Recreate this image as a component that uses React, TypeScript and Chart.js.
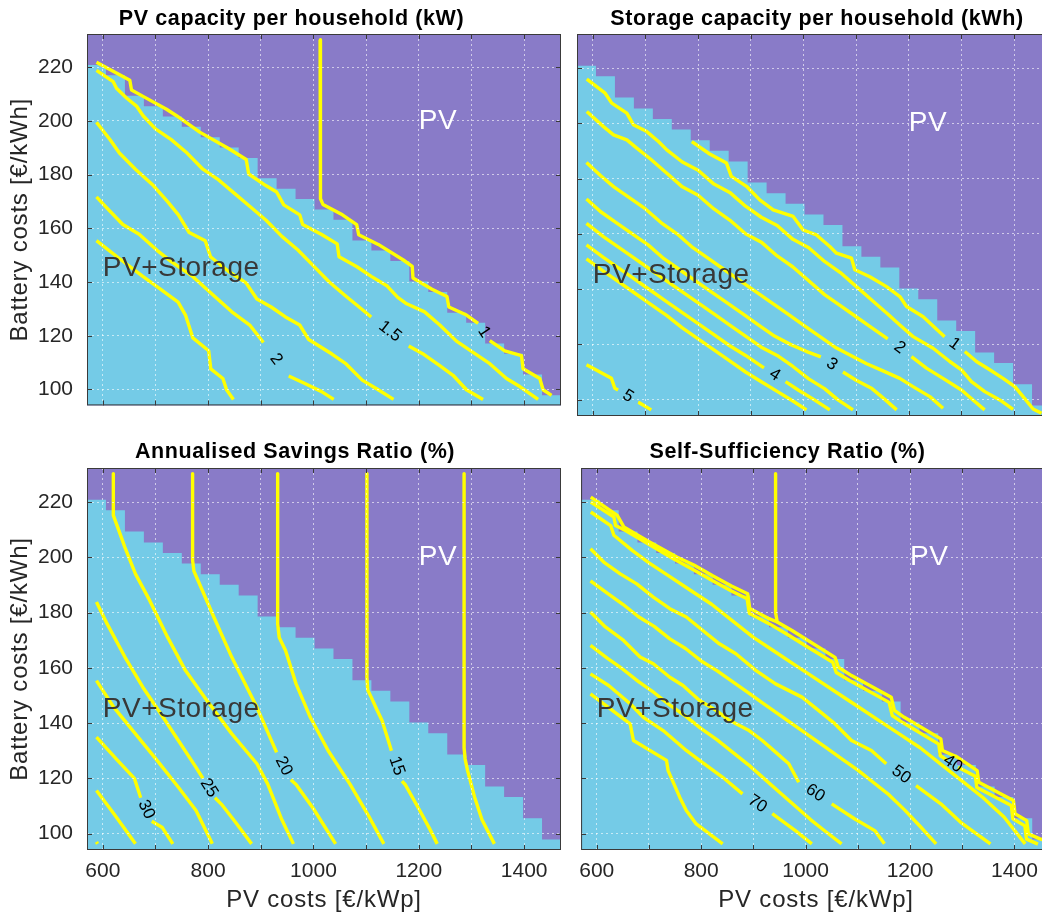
import React, { useEffect, useRef } from 'react';
import { Chart, registerables } from 'chart.js';

Chart.register(...registerables);

type Pt = [number, number] | null;

// ---------- shared axes / regime boundary ----------
const xTicks = [600, 700, 800, 900, 1000, 1100, 1200, 1300, 1400];
const xTickLabels = [600, 800, 1000, 1200, 1400];
const yTicks = [100, 120, 140, 160, 180, 200, 220];
const pvCostEdges = [570, 606, 642, 678, 714, 750, 786, 822, 858, 894, 930, 966, 1002, 1038, 1074, 1110, 1146, 1182, 1218, 1254, 1290, 1326, 1362, 1398, 1434, 1470];
const regimeBoundary = [220.8, 217.0, 209.3, 205.4, 201.6, 197.8, 193.9, 190.1, 186.2, 178.6, 174.7, 170.9, 167.0, 163.2, 155.5, 151.7, 147.8, 140.2, 136.3, 128.6, 124.8, 117.1, 113.3, 105.6, 97.9];

// ---------- PV capacity per household (kW) ----------
const pvKw100: Pt[] = [[1012.6, 230.2], [1012.6, 174], [1014, 171], [1018, 168.9], [1055, 165], [1082, 161.4], [1085.9, 157.6], [1123, 154], [1170.6, 148.2], [1187.5, 145.8], [1189, 141.5], [1225, 137.3], [1253.5, 134.6], [1257, 130.7], [1290.5, 127.7], [1312.6, 124.6], null, [1334.8, 118.2], [1363.2, 114.4], [1395, 112.6], [1398, 107.7], [1429.7, 104.1], [1436, 99.9], [1452, 97.8]];
const pvKw125: Pt[] = [[588, 221.8], [651.3, 215.1], [654.5, 211.5], [676.5, 209.1], [721, 204.3], [740, 201.9], [784, 195.8], [838, 189.8], [872.3, 185.6], [877, 180.2], [909.5, 175.9], [930, 173.5], [943.6, 168.7], [974, 165], [979.5, 161.4], [1014.7, 157.8], [1045, 154.2], [1048.5, 149.4], [1082.5, 145.7], [1109.7, 142.1], [1140, 138.5], [1160, 134.3], [1177, 131.9], [1211, 128.9], [1239.8, 124], [1271.5, 118], [1303, 113.8], [1334.8, 109.6], [1366.5, 104.1], [1391.7, 101.1], [1426.5, 96.3]];
const pvKw150: Pt[] = [[588, 218.8], [619.6, 214.6], [626, 212.1], [645, 208.5], [664, 205.5], [676.5, 201.9], [700, 197], [730, 193], [760, 188], [790, 182], [820, 178], [850, 173], [880, 168], [910, 163], [940, 157], [970, 152], [1000, 146], [1030, 140], [1060, 135], [1085, 131], [1109.6, 127], null, [1180.9, 116.2], [1210, 113], [1239.8, 108.9], [1265, 105.3], [1290.5, 99.9], [1322, 96.3]];
const pvKw175: Pt[] = [[588, 199.5], [614.6, 192.8], [631.5, 188], [662, 182], [696, 175.9], [723, 169.9], [743.5, 165], [764, 158.4], [794.5, 155.4], [804.5, 149.4], [838.4, 144], [872, 139.7], [892.6, 133.7], [919.7, 130.7], [946.8, 127], [973.9, 124], [991, 118.6], [1035, 113.2], [1062, 109.5], [1092.6, 103.5], [1123, 99.9], [1152, 96.3]];
const pvKw200: Pt[] = [[588, 171.7], [608, 167.5], [638, 161.4], [669, 157.8], [703, 151.8], [730, 147.6], [770.6, 142.1], [811, 134.9], [845, 128.9], [879, 124], [905, 117.5], null, [953, 105], [980.7, 102.5], [1014.6, 99.3], [1038.4, 96.3]];
const pvKw225: Pt[] = [[588, 155.4], [635, 148.2], [676, 142.1], [710, 137.3], [743, 132.5], [757, 127.7], [771, 119.2], [801, 114.4], [805, 107.7], [828, 104.1], [835, 99.9], [848, 96.3]];

// ---------- Storage capacity per household (kWh) ----------
const stor100: Pt[] = [[788, 193.4], [822, 188.9], [853.8, 185.6], [863, 180.8], [891.8, 177.2], [917, 172.3], [942.5, 168.7], [980.4, 166.3], [999.4, 161.4], [1024.7, 159.6], [1050, 155.4], [1062.7, 153], [1091.2, 151.2], [1097.5, 147], [1126, 144.5], [1157.7, 140.9], [1183, 137.3], [1195.7, 133.7], [1227.3, 130], [1268, 122.8], null, [1306.3, 117.4], [1328.5, 113.8], [1353.7, 110.8], [1379, 107.7], [1401.3, 104.7], [1417, 101.1], [1436, 96.6], [1452, 95.1]];
const stor150: Pt[] = [[588.6, 216], [623.4, 210.9], [636, 207.3], [664.6, 203.7], [677, 199.5], [702.5, 197], [724.7, 193.4], [740.5, 190.4], [770, 186], [800, 183], [830, 178], [860, 175], [890, 170], [920, 166], [950, 163], [980, 158], [1010, 155], [1040, 150], [1070, 146], [1100, 141], [1130, 136], [1160, 131], [1182.9, 127], [1208.2, 122.8], [1246.2, 118.6], [1277.8, 113.8], [1300, 110.8], [1319, 106.5], [1344.3, 102.9], [1372.8, 99.9], [1398, 96.5]];
const stor200: Pt[] = [[588.6, 204.3], [620.3, 198.8], [639.3, 195.8], [664.6, 194], [683.5, 191], [710, 187], [740, 182], [770, 177], [800, 174], [830, 169], [860, 165], [890, 160], [920, 157], [950, 152], [980, 148], [1010, 143], [1040, 138], [1070, 134], [1100, 130], [1130, 126], [1160, 122], null, [1205, 115.6], [1233.5, 111.4], [1265, 107.7], [1300, 103.5], [1322, 99.9], [1344, 96.3]];
const stor250: Pt[] = [[588, 185.8], [615, 181], [640, 177], [670, 173], [700, 169], [730, 164], [760, 160], [790, 155], [820, 151], [850, 147], [880, 143], [910, 139], [940, 135], [970, 131], [1000, 127], [1030, 123], [1060, 119], [1090, 116], [1120, 113], [1150, 110.5], [1182.9, 107.7], [1208, 104.7], [1240, 101.1], [1265, 96.9]];
const stor300: Pt[] = [[588, 172.6], [615, 168], [645, 164], [675, 160], [705, 156], [735, 151], [765, 147], [795, 143], [825, 139], [855, 135], [885, 131], [915, 127], [945, 123], [975, 120], [1005, 117.5], [1033, 115.5], null, [1075, 110], [1100, 107], [1130, 104], [1155, 100], [1177, 96.3]];
const stor350: Pt[] = [[588, 163.8], [620, 159], [650, 155], [680, 151], [710, 147], [740, 143], [770, 139], [800, 135], [830, 131], [860, 127], [890, 123], [920, 119], [950, 116], [980, 112], [1010, 107.5], [1040, 104], [1065, 100], [1094, 96.3]];
const stor400: Pt[] = [[588, 156], [620, 151.5], [650, 147.5], [680, 143.5], [710, 139.5], [740, 135.5], [770, 131.5], [800, 127.5], [830, 123.5], [860, 119.5], [890, 116], [925, 111.5], null, [966, 106.5], [990, 103.5], [1020, 100], [1050, 96.3]];
const stor450: Pt[] = [[588, 150.9], [620, 146.5], [650, 142.5], [680, 138.5], [710, 134.5], [740, 130.5], [770, 126], [800, 122], [830, 118], [860, 114], [890, 110], [920, 106.5], [950, 103], [980, 99.5], [1005.7, 96.3]];
const stor500: Pt[] = [[588, 112.6], [635.4, 107.7], [641.8, 104.1], [648, 103.5], null, [686, 99], [689, 98.8], [711, 96.3]];

// ---------- Annualised Savings Ratio (%) ----------
const sav125: Pt[] = [[1286, 230.3], [1286, 131], [1288, 127], [1292.6, 122.8], [1306, 113.2], [1320, 105], [1343.5, 96.3]];
const sav150: Pt[] = [[1101.5, 230.3], [1101.5, 156.6], [1103, 152], [1109.6, 149.4], [1120, 145], [1130, 141], [1140, 135], [1148, 130], null, [1168, 119], [1174, 117.8], [1200, 109], [1220, 102], [1235, 96.3]];
const sav175: Pt[] = [[932, 230.3], [932, 175.9], [935, 171], [947, 166.3], [967, 154.2], [994, 142.1], [1028, 130], [1069, 118], [1103, 107], [1133.6, 96.3]];
const sav200: Pt[] = [[770.5, 230.3], [770.5, 198.9], [773, 195], [780.8, 191.6], [811, 178.3], [845, 163.8], [892.6, 145.7], [930, 129.4], null, [957, 119.5], [967, 117.8], [1000, 109], [1042, 96.3]];
const sav225: Pt[] = [[620, 230.3], [620, 215.2], [628, 211], [641.8, 203.7], [662, 194], [689, 184.4], [723, 171.1], [757, 159], [797.7, 148.2], [845, 136.1], [892.6, 125.3], [913, 118], [940, 105], [962, 96.3]];
const sav250: Pt[] = [[588, 183.8], [608, 176], [642, 163.9], [676, 153], [710, 143.4], [743.5, 133.7], [777, 124], [790, 120], null, [813, 113], [825, 110.7], [852, 104.1], [882.6, 96.3]];
const sav275: Pt[] = [[588, 155.4], [621, 145.7], [662, 136.1], [703, 126.5], [743.5, 116.8], [777, 108.4], [808, 96.3]];
const sav300: Pt[] = [[588, 134.9], [628, 126.5], [660, 120], [672, 113], null, [693, 104.5], [713, 102.2], [733, 96.3]];
const sav325: Pt[] = [[588, 115.6], [621, 107.2], [662, 96.3]];
const sav350: Pt[] = [[588, 97], [590, 96.3]];

// ---------- Self-Sufficiency Ratio (%) ----------
const ssrVert: Pt[] = [[942.5, 230.3], [942.5, 180], [945.6, 176.6], [974, 173.5], [1056.4, 163.8], [1062.7, 160.2], [1088, 157.2], [1164, 149.4], [1170, 144.6], [1189, 142.1], [1259, 134.3], [1262, 130.1], [1290.6, 127.7], [1328.6, 122.8], [1331.7, 118.6], [1398, 112], [1401, 107.2], [1423.5, 104.7], [1426.7, 99.9], [1448.9, 98.1], [1462, 97.3]];
const ssrEdge: Pt[] = [[588.6, 221.8], [639.3, 215.2], [651.8, 211], [696, 206.1], [753.2, 200.1], [786, 197.2], [822, 193.3], [858, 189.6], [889, 186.8], [893, 181.5], [930, 177.8], [945.6, 176.6]];
const ssr40: Pt[] = [[588.6, 220], [632.8, 214.6], [636, 211.5], [655, 209.7], [746.8, 199.5], [786, 195.4], [822, 191.5], [858, 187.8], [888, 185], [892, 179.8], [930, 176], [966, 172], [1000, 168], [1052, 162], [1058.7, 158.3], [1085, 155.3], [1160, 147.5], [1166, 142.7], [1186, 140.2], [1255, 132.4], [1258, 128.2], [1272, 126.5], null, [1292, 124], [1325, 120.8], [1328, 116.7], [1394, 110.2], [1397, 105.4], [1420, 102.8], [1423, 98], [1445, 96.2]];
const ssr45: Pt[] = [[588.6, 216.4], [626.6, 211.5], [632.8, 208], [667.8, 202.5], [700, 198], [740, 193], [780, 188], [820, 183], [860, 177], [900, 171], [940, 166], [980, 161], [1020, 156], [1060, 151], [1100, 146], [1140, 141], [1180, 136], [1220, 131], [1260, 125], [1300, 119], [1340, 113], [1380, 106], [1420.5, 96.3]];
const ssr50: Pt[] = [[588, 203.1], [613.3, 198.3], [645, 194], [676.6, 190.4], [708.3, 185.6], [740, 181.4], [771.5, 178.4], [803.2, 173.5], [834.8, 168.7], [866.5, 165.1], [904.5, 159.1], [942.5, 154.2], [993, 149.4], [1024.7, 144.6], [1056.4, 139.7], [1088, 133.7], [1126, 130.1], [1154.5, 125.3], null, [1211.5, 117.4], [1259, 110.8], [1297, 104.1], [1354, 96.3]];
const ssr55: Pt[] = [[588, 191.5], [620, 187], [650, 183], [680, 178.5], [710, 175], [740, 170.5], [770, 167], [800, 162.5], [830, 159], [860, 155], [890, 151], [920, 147], [950, 143], [980, 139], [1010, 135], [1040, 131], [1070, 127], [1100, 123], [1130, 118.5], [1160, 114], [1190, 108.5], [1220, 102.5], [1250, 96.3]];
const ssr60: Pt[] = [[588, 180.2], [616.5, 174.8], [651.3, 169.9], [683, 163.9], [708.3, 161.5], [740, 156.6], [765.2, 153.6], [796.9, 148.2], [828.5, 144.6], [853.8, 141], [891.8, 137.3], [917, 133.7], [942.5, 129.5], [967.8, 125.3], [986.8, 118.6], null, [1050, 110.8], [1094.4, 105.3], [1132.4, 101.1], [1151, 96.3]];
const ssr65: Pt[] = [[588, 168.1], [620, 163.5], [650, 159.5], [680, 155], [710, 151], [740, 146.5], [770, 142.5], [800, 138], [830, 134], [860, 129.5], [890, 125], [920, 120], [950, 115], [980, 110], [1010, 105], [1040, 100.5], [1069, 96.3]];
const ssr70: Pt[] = [[588, 157.8], [622.8, 153.6], [664, 147], [689.3, 142.1], [727.2, 137.3], [771.5, 130.1], [796.9, 126.5], [841.2, 120.4], [879.2, 114.4], null, [936.1, 107.2], [980.4, 101.1], [1012, 96.3]];
const ssr75: Pt[] = [[588, 150.6], [664, 139.7], [670.3, 133.7], [733.6, 126.5], [736.7, 122.8], [758.9, 113.2], [771.5, 108.4], [790.5, 103.5], [841.2, 96.3]];

// ---------- text ----------
const regionText = [
  { text: 'PV', x: 1200, y: 200, color: '#ffffff' },
  { text: 'PV+Storage', x: 600, y: 145, color: '#383838' },
];

// ---------- styling ----------
const FONT = '"Liberation Sans", Arial, Helvetica, sans-serif';
const PURPLE = '#897bc8';
const CYAN = '#74cbe7';
const YELLOW = '#ffff00';
const INK = '#262626';

type LineSpec = { pts: Pt[]; label?: string };
type PanelSpec = {
  left: number; top: number; w: number; h: number;
  area: { l: number; t: number; r: number; b: number };
  showX: boolean; showY: boolean;
  title: string; titleX: number; titleY: number;
  xTitleY?: number;
  lines: LineSpec[];
};

const panels: PanelSpec[] = [
  {
    left: 0, top: 0, w: 570, h: 432, area: { l: 87, t: 34, r: 561, b: 416 }, showX: false, showY: true,
    title: 'PV capacity per household (kW)', titleX: 291.5, titleY: 24.7,
    lines: [{ pts: pvKw100, label: '1' }, { pts: pvKw125 }, { pts: pvKw150, label: '1.5' }, { pts: pvKw175 }, { pts: pvKw200, label: '2' }, { pts: pvKw225 }],
  },
  {
    left: 570, top: 0, w: 490, h: 432, area: { l: 7, t: 34, r: 481, b: 416 }, showX: false, showY: false,
    title: 'Storage capacity per household (kWh)', titleX: 247, titleY: 25,
    lines: [{ pts: stor100, label: '1' }, { pts: stor150 }, { pts: stor200, label: '2' }, { pts: stor250 }, { pts: stor300, label: '3' }, { pts: stor350 }, { pts: stor400, label: '4' }, { pts: stor450 }, { pts: stor500, label: '5' }],
  },
  {
    left: 0, top: 432, w: 570, h: 484, area: { l: 87, t: 36, r: 561, b: 418 }, showX: true, showY: true,
    title: 'Annualised Savings Ratio (%)', titleX: 295, titleY: 25.5, xTitleY: 474.7,
    lines: [{ pts: sav125 }, { pts: sav150, label: '15' }, { pts: sav175 }, { pts: sav200, label: '20' }, { pts: sav225 }, { pts: sav250, label: '25' }, { pts: sav275 }, { pts: sav300, label: '30' }, { pts: sav325 }, { pts: sav350 }],
  },
  {
    left: 570, top: 432, w: 490, h: 484, area: { l: 7, t: 36, r: 481, b: 418 }, showX: true, showY: false,
    title: 'Self-Sufficiency Ratio (%)', titleX: 217.5, titleY: 26, xTitleY: 474.7,
    lines: [{ pts: ssrVert }, { pts: ssrEdge }, { pts: ssr40, label: '40' }, { pts: ssr45 }, { pts: ssr50, label: '50' }, { pts: ssr55 }, { pts: ssr60, label: '60' }, { pts: ssr65 }, { pts: ssr70, label: '70' }, { pts: ssr75 }],
  },
];

function toXY(pts: Pt[]) {
  let lastX = 0;
  return pts.map((p) => {
    if (!p) return { x: lastX, y: null as any };
    lastX = p[0];
    return { x: p[0], y: p[1] };
  });
}

const decorPlugin = {
  id: 'decor',
  beforeDatasetsDraw(chart: any) {
    const { ctx, chartArea: a } = chart;
    ctx.save();
    ctx.fillStyle = PURPLE;
    ctx.fillRect(a.left, a.top, a.right - a.left, a.bottom - a.top);
    ctx.restore();
  },
  afterDraw(chart: any, _args: any, opts: any) {
    const { ctx, chartArea: a } = chart;
    const xs = chart.scales.x;
    const ys = chart.scales.y;
    ctx.save();
    // box + inward ticks
    ctx.strokeStyle = '#3a3a3a';
    ctx.lineWidth = 1;
    ctx.strokeRect(a.left + 0.5, a.top + 0.5, a.right - a.left - 1, a.bottom - a.top - 1);
    ctx.beginPath();
    for (const v of xTicks) {
      const px = Math.round(xs.getPixelForValue(v)) + 0.5;
      ctx.moveTo(px, a.bottom); ctx.lineTo(px, a.bottom - 5);
      ctx.moveTo(px, a.top); ctx.lineTo(px, a.top + 5);
    }
    for (const v of yTicks) {
      const py = Math.round(ys.getPixelForValue(v)) + 0.5;
      ctx.moveTo(a.left, py); ctx.lineTo(a.left + 5, py);
      ctx.moveTo(a.right, py); ctx.lineTo(a.right - 5, py);
    }
    ctx.stroke();

    // region labels
    ctx.font = `28px ${FONT}`;
    (ctx as any).letterSpacing = '0.5px';
    ctx.textAlign = 'left';
    ctx.textBaseline = 'middle';
    for (const r of regionText) {
      ctx.fillStyle = r.color;
      ctx.fillText(r.text, xs.getPixelForValue(r.x), ys.getPixelForValue(r.y));
    }
    (ctx as any).letterSpacing = '0px';

    // contour labels at the gaps
    ctx.font = `17px ${FONT}`;
    ctx.fillStyle = '#000';
    ctx.textAlign = 'center';
    ctx.textBaseline = 'middle';
    chart.data.datasets.forEach((ds: any) => {
      if (!ds.clabel) return;
      const d = ds.data;
      const gi = d.findIndex((p: any) => p.y === null);
      if (gi < 1) return;
      const p0 = d[gi - 1];
      const p1 = d[gi + 1];
      const x0 = xs.getPixelForValue(p0.x), y0 = ys.getPixelForValue(p0.y);
      const x1 = xs.getPixelForValue(p1.x), y1 = ys.getPixelForValue(p1.y);
      let ang = Math.atan2(y1 - y0, x1 - x0);
      if (ang > Math.PI / 2) ang -= Math.PI;
      if (ang < -Math.PI / 2) ang += Math.PI;
      ctx.save();
      ctx.translate((x0 + x1) / 2, (y0 + y1) / 2);
      ctx.rotate(ang);
      ctx.fillText(ds.clabel, 0, 0);
      ctx.restore();
    });

    // panel title
    ctx.font = `bold 21.5px ${FONT}`;
    (ctx as any).letterSpacing = '0.6px';
    ctx.fillStyle = '#000';
    ctx.textAlign = 'center';
    ctx.textBaseline = 'alphabetic';
    ctx.fillText(opts.title, opts.titleX, opts.titleY);

    // axis titles
    ctx.font = `24px ${FONT}`;
    (ctx as any).letterSpacing = '0.8px';
    ctx.fillStyle = INK;
    if (opts.yTitle) {
      ctx.save();
      ctx.translate(27, (a.top + a.bottom) / 2);
      ctx.rotate(-Math.PI / 2);
      ctx.textAlign = 'center';
      ctx.textBaseline = 'alphabetic';
      ctx.fillText(opts.yTitle, 0, 0);
      ctx.restore();
    }
    if (opts.xTitle) {
      ctx.textAlign = 'center';
      ctx.textBaseline = 'alphabetic';
      ctx.fillText(opts.xTitle, (a.left + a.right) / 2, opts.xTitleY);
    }
    (ctx as any).letterSpacing = '0px';
    ctx.restore();
  },
};

function Panel({ spec }: { spec: PanelSpec }) {
  const ref = useRef<HTMLCanvasElement>(null);
  useEffect(() => {
    const canvas = ref.current!;
    const regionData = pvCostEdges.map((x, i) => ({ x, y: regimeBoundary[Math.min(i, regimeBoundary.length - 1)] }));
    const datasets: any[] = [
      {
        data: regionData,
        stepped: 'before',
        fill: 'start',
        backgroundColor: CYAN,
        borderWidth: 0,
        pointRadius: 0,
        order: 1,
      },
      ...spec.lines.map((ln) => ({
        data: toXY(ln.pts),
        borderColor: YELLOW,
        borderWidth: 3.4,
        pointRadius: 0,
        pointHoverRadius: 0,
        fill: false,
        tension: 0,
        spanGaps: false,
        borderJoinStyle: 'round',
        borderCapStyle: 'butt',
        order: 0,
        clabel: ln.label,
      })),
    ];
    const a = spec.area;
    const chart = new Chart(canvas, {
      type: 'line',
      data: { datasets },
      plugins: [decorPlugin as any],
      options: {
        responsive: false,
        animation: false,
        events: [],
        layout: { padding: { left: 0, top: a.t, right: spec.w - a.r, bottom: 0 } },
        scales: {
          x: {
            type: 'linear',
            min: 570,
            max: 1470,
            afterBuildTicks: (s: any) => { s.ticks = xTicks.map((v) => ({ value: v })); },
            afterFit: (s: any) => { s.height = spec.h - a.b; },
            ticks: {
              display: spec.showX,
              autoSkip: false,
              maxRotation: 0,
              minRotation: 0,
              padding: 9,
              color: INK,
              font: { family: FONT, size: 21 },
              callback: (v: any) => (xTickLabels.includes(Number(v)) ? String(v) : ''),
            },
            grid: { z: 1, color: 'rgba(255,255,255,0.6)', lineWidth: 1, drawTicks: false },
            border: { display: false, dash: [2, 3] },
          },
          y: {
            type: 'linear',
            min: 94.08,
            max: 232.32,
            afterBuildTicks: (s: any) => { s.ticks = yTicks.map((v) => ({ value: v })); },
            afterFit: (s: any) => { s.width = a.l; },
            ticks: {
              display: spec.showY,
              padding: 14,
              color: INK,
              font: { family: FONT, size: 21 },
              callback: (v: any) => String(v),
            },
            grid: { z: 1, color: 'rgba(255,255,255,0.6)', lineWidth: 1, drawTicks: false },
            border: { display: false, dash: [2, 3] },
          },
        },
        plugins: {
          legend: { display: false },
          tooltip: { enabled: false },
          decor: {
            title: spec.title,
            titleX: spec.titleX,
            titleY: spec.titleY,
            yTitle: spec.showY ? 'Battery costs [€/kWh]' : '',
            xTitle: spec.showX ? 'PV costs [€/kWp]' : '',
            xTitleY: spec.xTitleY,
          },
        } as any,
      } as any,
    });
    return () => chart.destroy();
  }, [spec]);
  return (
    <canvas
      ref={ref}
      width={spec.w}
      height={spec.h}
      style={{ position: 'absolute', left: spec.left, top: spec.top, width: spec.w, height: spec.h }}
    />
  );
}

export default function App() {
  return (
    <div style={{ position: 'absolute', left: 0, top: 0, width: 1042, height: 916, overflow: 'hidden', background: '#ffffff' }}>
      {panels.map((p, i) => (
        <Panel key={i} spec={p} />
      ))}
    </div>
  );
}
